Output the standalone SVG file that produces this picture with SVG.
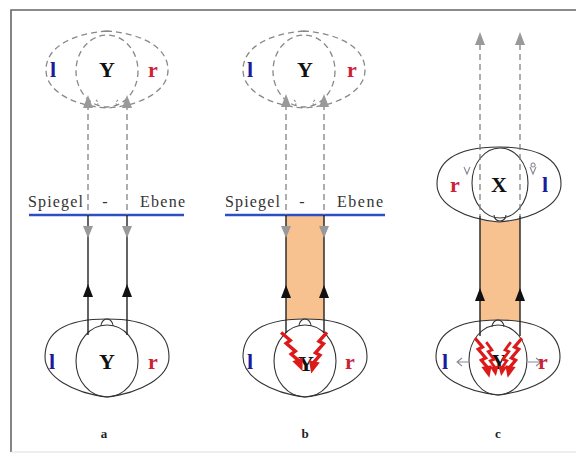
<svg xmlns="http://www.w3.org/2000/svg" xmlns:xlink="http://www.w3.org/1999/xlink" width="576" height="455" viewBox="0 0 576 455">
<style>
.lbl{font-family:"Liberation Serif",serif;font-weight:bold;font-size:22px;text-anchor:middle}
.bl{fill:#1c1c9c}
.rd{fill:#cc2233}
.bk{fill:#111}
.sub{font-family:"Liberation Serif",serif;font-weight:bold;font-size:13px;text-anchor:middle;fill:#222}
.mir{font-family:"Liberation Serif",serif;font-size:16px;fill:#333}
.shape{fill:#fff;stroke:#333;stroke-width:1.1}
.inner{fill:none;stroke:#333;stroke-width:1.1}
.dshape{fill:#fff;stroke:#888;stroke-width:1.3;stroke-dasharray:6 4}
.dinner{fill:none;stroke:#888;stroke-width:1.3;stroke-dasharray:6 4}
.dline{stroke:#777;stroke-width:1.2;stroke-dasharray:6 4;fill:none}
.sline{stroke:#222;stroke-width:1.4;fill:none}
.ghead{fill:#999}
.bhead{fill:#111}
.band{fill:#f8c290}
.blue{stroke:#2e4fbf;stroke-width:2.5}
.small{fill:none;stroke:#889;stroke-width:1.1}
</style>
<defs>
<g id="bolt">
<path d="M-1,0 L4,11 L-1,12 L4,23 L-1,24 L3,33" fill="none" stroke="#dd1a1a" stroke-width="3.4" stroke-linejoin="miter"/>
<path d="M-3,31 L8,32 L2,44 Z" fill="#dd1a1a"/>
</g>
<path id="gup" d="M0,0 L-5,13 L5,13 Z"/>
<path id="gdn" d="M0,0 L-5,-12 L5,-12 Z"/>
</defs>

<!-- frame -->
<path d="M11,452 L11,10 L576,10" fill="none" stroke="#666" stroke-width="1.6"/>
<path d="M11,452 L576,452" fill="none" stroke="#ddd" stroke-width="1"/>

<!-- orange bands -->
<rect class="band" x="286" y="216" width="38" height="116"/>
<rect class="band" x="480" y="205" width="40" height="128"/>

<!-- panel a -->
<g id="a-image">
<path class="dshape" d="M107,31 C70,34 46,48 46,70 C46,92 75,106 107,108 C139,106 168,92 168,70 C168,48 144,34 107,31 Z"/>
<ellipse class="dinner" cx="107" cy="71" rx="31" ry="36"/>
<path class="small" d="M96,100 q4,3 0,7 M118,100 q-4,3 0,7" stroke-dasharray="2 2"/>
<text class="lbl bl" x="53" y="77">l</text>
<text class="lbl bk" x="107" y="77">Y</text>
<text class="lbl rd" x="153" y="77">r</text>
</g>
<g id="a-mirror">
<text class="mir" x="28" y="207" textLength="55">Spiegel</text>
<text class="mir" x="105" y="207" text-anchor="middle">-</text>
<text class="mir" x="140" y="207" textLength="45">Ebene</text>
<line class="blue" x1="29" y1="215" x2="184" y2="215"/>
</g>
<g id="a-object">
<path class="shape" d="M107,319 C60,319 45,336 45,357 C45,377 73,393 107,397 C141,393 169,377 169,357 C169,336 154,319 107,319 Z"/>
<path class="inner" d="M101,326 A6,7 0 0 1 113,326"/>
<ellipse class="inner" cx="107" cy="361" rx="31" ry="36"/>
<text class="lbl bl" x="52" y="369">l</text>
<text class="lbl bk" x="107" y="369">Y</text>
<text class="lbl rd" x="153" y="369">r</text>
</g>
<text class="sub" x="104" y="438">a</text>

<!-- panel b -->
<g id="b-image">
<path class="dshape" d="M304,31 C267,34 243,48 243,70 C243,92 272,106 304,108 C336,106 365,92 365,70 C365,48 341,34 304,31 Z"/>
<ellipse class="dinner" cx="304" cy="71" rx="31" ry="36"/>
<path class="small" d="M294,100 q4,3 0,7 M315,100 q-4,3 0,7" stroke-dasharray="2 2"/>
<text class="lbl bl" x="250" y="77">l</text>
<text class="lbl bk" x="305" y="77">Y</text>
<text class="lbl rd" x="352" y="77">r</text>
</g>
<g id="b-mirror">
<text class="mir" x="225" y="207" textLength="55">Spiegel</text>
<text class="mir" x="302" y="207" text-anchor="middle">-</text>
<text class="mir" x="337" y="207" textLength="46">Ebene</text>
<line class="blue" x1="225" y1="215" x2="385" y2="215"/>
</g>
<g id="b-object">
<path class="shape" d="M305,319 C258,319 243,336 243,357 C243,377 271,393 305,397 C339,393 367,377 367,357 C367,336 352,319 305,319 Z"/>
<path class="inner" d="M299,326 A6,7 0 0 1 311,326"/>
<ellipse class="inner" cx="305" cy="361" rx="31" ry="36"/>
<text class="lbl bl" x="250" y="369">l</text>
<text class="lbl bk" x="306" y="371">Y</text>
<text class="lbl rd" x="350" y="369">r</text>
</g>
<text class="sub" x="305" y="438">b</text>

<!-- panel c -->
<g id="c-image">
<path class="shape" d="M499,147 C452,147 437,164 437,184 C437,205 465,219 499,222 C533,219 561,205 561,184 C561,164 546,147 499,147 Z"/>
<path class="inner" d="M494,215 A6,6 0 0 0 506,215"/>
<ellipse class="inner" cx="500" cy="183" rx="28" ry="35"/>
<path class="small" d="M464,167 l3,7 l3,-7 M530,167 l3,7 l3,-7 M533,167 a2,2 0 1 1 0.1,0"/>
<text class="lbl rd" x="455" y="192">r</text>
<text class="lbl bk" x="499" y="192">X</text>
<text class="lbl bl" x="545" y="192">l</text>
</g>
<g id="c-object">
<path class="shape" d="M498,320 C451,320 436,337 436,357 C436,377 464,391 498,395 C532,391 560,377 560,357 C560,337 545,320 498,320 Z"/>
<path class="inner" d="M492,327 A6,7 0 0 1 504,327"/>
<ellipse class="inner" cx="498" cy="360" rx="29" ry="35"/>
<path class="small" d="M470,362 L458,362 M462,358 L457,362 L462,366 M528,362 L540,362 M536,358 L541,362 L536,366"/>
<text class="lbl bl" x="445" y="369">l</text>
<text class="lbl bk" x="499" y="369">Y</text>
<text class="lbl rd" x="543" y="369">r</text>
</g>
<text class="sub" x="498" y="438">c</text>

<!-- connectors -->
<g id="connectors">
<line class="dline" x1="88" y1="104" x2="88" y2="215"/>
<line class="dline" x1="127" y1="104" x2="127" y2="215"/>
<line class="sline" x1="88" y1="215" x2="88" y2="335"/>
<line class="sline" x1="127" y1="215" x2="127" y2="335"/>
<use href="#gup" class="ghead" x="88" y="95"/>
<use href="#gup" class="ghead" x="127" y="95"/>
<use href="#gdn" class="ghead" x="88" y="238"/>
<use href="#gdn" class="ghead" x="127" y="238"/>
<use href="#gup" class="bhead" x="88" y="284"/>
<use href="#gup" class="bhead" x="127" y="284"/>
<line class="dline" x1="286" y1="104" x2="286" y2="215"/>
<line class="dline" x1="324" y1="104" x2="324" y2="215"/>
<line class="sline" x1="286" y1="215" x2="286" y2="333"/>
<line class="sline" x1="324" y1="215" x2="324" y2="333"/>
<use href="#gup" class="ghead" x="286" y="94"/>
<use href="#gup" class="ghead" x="324" y="94"/>
<use href="#gdn" class="ghead" x="286" y="238"/>
<use href="#gdn" class="ghead" x="324" y="238"/>
<use href="#gup" class="bhead" x="286" y="285"/>
<use href="#gup" class="bhead" x="324" y="285"/>
<line class="dline" x1="480" y1="44" x2="480" y2="216"/>
<line class="dline" x1="520" y1="44" x2="520" y2="216"/>
<line class="sline" x1="480" y1="216" x2="480" y2="336"/>
<line class="sline" x1="520" y1="216" x2="520" y2="336"/>
<use href="#gup" class="ghead" x="480" y="32"/>
<use href="#gup" class="ghead" x="520" y="32"/>
<use href="#gup" class="bhead" x="480" y="288"/>
<use href="#gup" class="bhead" x="520" y="288"/>
</g>

<!-- bolts -->
<g id="bolts">
<use href="#bolt" transform="translate(282,332) rotate(-25)"/>
<use href="#bolt" transform="translate(326,332) rotate(17) scale(-1,1)"/>
<use href="#bolt" transform="translate(476,338) rotate(-16) scale(0.95)"/>
<use href="#bolt" transform="translate(487,342) rotate(-12) scale(0.8)"/>
<use href="#bolt" transform="translate(521,338) rotate(16) scale(-0.95,0.95)"/>
<use href="#bolt" transform="translate(510,342) rotate(12) scale(-0.8,0.8)"/>
</g>
</svg>
